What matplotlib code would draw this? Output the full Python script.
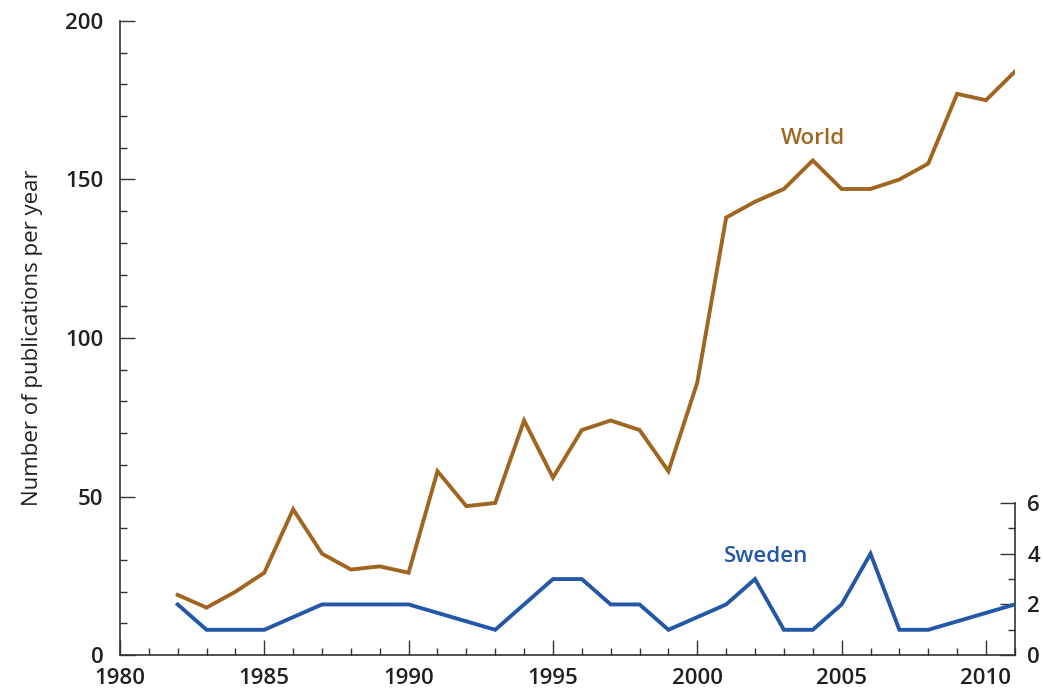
import matplotlib.pyplot as plt
from matplotlib.ticker import MultipleLocator

plt.rcParams['font.family'] = ['Open Sans', 'DejaVu Sans']
plt.rcParams['font.weight'] = 'semibold'

# ---- data ----
world_years = list(range(1982, 2012))
world_pubs = [19, 15, 20, 26, 46, 32, 27, 28, 26, 58, 47, 48, 74, 56, 71,
              74, 71, 58, 86, 138, 143, 147, 156, 147, 147, 150, 155, 177, 175, 184]

sweden_years = [1982, 1983, 1985, 1987, 1990, 1993, 1995, 1996, 1997, 1998,
                1999, 2001, 2002, 2003, 2004, 2005, 2006, 2007, 2008, 2011]
sweden_pubs = [2, 1, 1, 2, 2, 1, 3, 3, 2, 2, 1, 2, 3, 1, 1, 2, 4, 1, 1, 2]

C_WORLD = '#A0661F'
C_SWE = '#2457A8'
C_AX = '#333333'
C_TXT = '#231F20'

fig = plt.figure(figsize=(10.43, 6.97), dpi=100)
ax = fig.add_axes([0.115, 0.060, 0.858, 0.910])
ax2 = ax.twinx()

ax.plot(world_years, world_pubs, color=C_WORLD, lw=2.8, solid_joinstyle='miter', zorder=3)
ax2.plot(sweden_years, sweden_pubs, color=C_SWE, lw=2.8, solid_joinstyle='miter', zorder=3)

ax.text(2004, 163, 'World', color=C_WORLD, fontsize=16, ha='center', va='center')
ax2.text(2002.4, 3.9, 'Sweden', color=C_SWE, fontsize=16, ha='center', va='center')

# ---- left / bottom axis ----
ax.set_xlim(1980, 2011)
ax.set_ylim(0, 200)
ax.set_xticks([1980, 1985, 1990, 1995, 2000, 2005, 2010])
ax.xaxis.set_minor_locator(MultipleLocator(1))
ax.set_yticks([0, 50, 100, 150, 200])
ax.yaxis.set_minor_locator(MultipleLocator(10))
ax.tick_params(which='major', direction='in', length=10.5, width=1.0, color=C_AX,
               labelsize=16, labelcolor=C_TXT)
ax.tick_params(which='minor', direction='in', length=5, width=1.0, color=C_AX)
ax.tick_params(axis='y', which='major', pad=12)
ax.tick_params(axis='x', which='major', pad=9)
ax.set_ylabel('Number of publications per year', fontsize=16, color=C_TXT, labelpad=16)

for side in ['top', 'right']:
    ax.spines[side].set_visible(False)
for side in ['left', 'bottom']:
    ax.spines[side].set_color(C_AX)
    ax.spines[side].set_linewidth(1.2)

# ---- right axis (Sweden) ----
ax2.set_ylim(0, 25)
ax2.set_yticks([0, 2, 4, 6])
ax2.set_yticks([1, 3, 5], minor=True)
ax2.spines['right'].set_bounds(0, 6)
ax2.spines['right'].set_color(C_AX)
ax2.spines['right'].set_linewidth(1.2)
for side in ['top', 'left', 'bottom']:
    ax2.spines[side].set_visible(False)
ax2.tick_params(which='major', direction='in', length=10.5, width=1.0, color=C_AX,
                labelsize=16, labelcolor=C_TXT, pad=9)
ax2.tick_params(which='minor', direction='in', length=5, width=1.0, color=C_AX)

fig.savefig('out.png', dpi=100, facecolor='white')
